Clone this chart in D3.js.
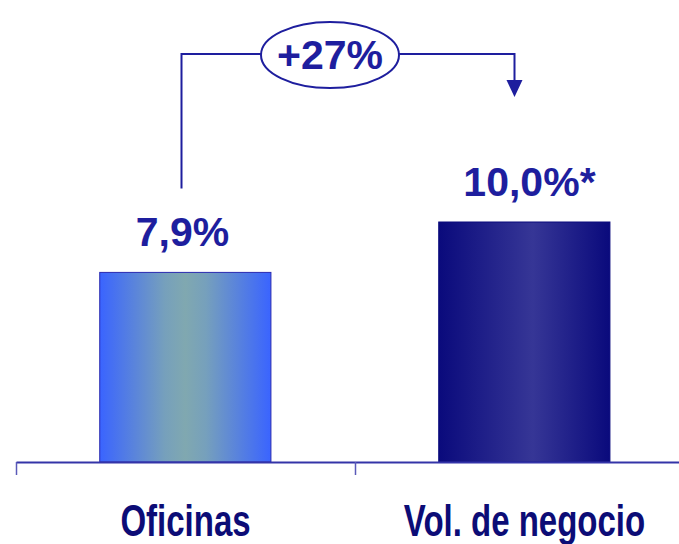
<!DOCTYPE html>
<html>
<head>
<meta charset="utf-8">
<script src="https://cdn.jsdelivr.net/npm/d3@7"></script>
<style>
  html, body { margin: 0; padding: 0; background: #ffffff; }
  svg { display: block; }
</style>
</head>
<body>
<svg id="chart" width="679" height="544"></svg>
<script>
const categories = ["Oficinas", "Vol. de negocio"];
const values = [7.9, 10.0];
const valueLabels = ["7,9%", "10,0%"];
const valueSuffix = ["", "*"];
const growthLabel = "+27%";

const svg = d3.select("#chart");

const x = d3.scaleBand().domain(categories).range([16, 694]).paddingInner(0).paddingOuter(0);
const y = d3.scaleLinear().domain([0, 18]).range([462, 30]);

const defs = svg.append("defs");
const g1 = defs.append("linearGradient").attr("id", "grad0").attr("x1", "0%").attr("x2", "100%").attr("y1", "0%").attr("y2", "0%");
g1.append("stop").attr("offset", "0%").attr("stop-color", "#3a64ff");
g1.append("stop").attr("offset", "38%").attr("stop-color", "#76a0bc");
g1.append("stop").attr("offset", "50%").attr("stop-color", "#80a8b0");
g1.append("stop").attr("offset", "62%").attr("stop-color", "#76a0bc");
g1.append("stop").attr("offset", "100%").attr("stop-color", "#3a64ff");
const g2 = defs.append("linearGradient").attr("id", "grad1").attr("x1", "0%").attr("x2", "100%").attr("y1", "0%").attr("y2", "0%");
g2.append("stop").attr("offset", "0%").attr("stop-color", "#0a0a7c");
g2.append("stop").attr("offset", "55%").attr("stop-color", "#363696");
g2.append("stop").attr("offset", "100%").attr("stop-color", "#0a0a7c");

const barW = x.bandwidth() * 0.505;
const barOff = x.bandwidth() * 0.247;
const data = categories.map((c, i) => ({ c, v: values[i], label: valueLabels[i], suf: valueSuffix[i], i }));

svg.selectAll("rect.bar").data(data).enter().append("rect")
  .attr("class", "bar")
  .attr("x", d => x(d.c) + barOff)
  .attr("y", d => y(d.v))
  .attr("width", barW)
  .attr("height", d => y(0) - y(d.v))
  .attr("fill", d => `url(#grad${d.i})`)
  .attr("stroke", d => d.i === 0 ? "#2a2ab0" : "#0a0a7c")
  .attr("stroke-width", 1);

// axis
const axisScale = d3.scaleLinear().domain([0, categories.length]).range([16, 694]);
const axis = d3.axisBottom(axisScale).tickValues(d3.range(categories.length + 1)).tickFormat("").tickSize(13).tickSizeOuter(0);
const ax = svg.append("g").attr("transform", `translate(0,${y(0)})`).call(axis);
ax.select(".domain").attr("stroke", "#3434a8").attr("stroke-width", 2);
ax.selectAll(".tick line").attr("stroke", "#5a5ab8").attr("stroke-width", 1.5);

// category labels (condensed bold)
svg.selectAll("text.cat").data(data).enter().append("text")
  .attr("class", "cat")
  .attr("transform", d => `translate(${x(d.c) + x.bandwidth() / 2},536) scale(0.75,1)`)
  .attr("text-anchor", "middle")
  .attr("font-family", "'Liberation Sans Narrow', 'Arial Narrow', 'Liberation Sans', Arial, sans-serif")
  .attr("font-weight", "bold")
  .attr("font-size", 44)
  .attr("fill", "#0c0c76")
  .text(d => d.c);

// value labels
const vl = svg.selectAll("g.vl").data(data).enter().append("g").attr("class", "vl");
vl.each(function(d) {
  const gg = d3.select(this);
  const cx = x(d.c) + x.bandwidth() / 2;
  const t = gg.append("text")
    .attr("y", y(d.v) - 26)
    .attr("font-family", "'Liberation Sans', Arial, sans-serif")
    .attr("font-weight", "bold")
    .attr("font-size", 41)
    .attr("fill", "#1e1e9e");
  t.append("tspan").text(d.label);
  const mainW = t.node().getComputedTextLength();
  if (d.suf) t.append("tspan").text(d.suf);
  t.attr("x", cx - mainW / 2 - 3);
});

// growth connector
const c1 = x(categories[0]) + x.bandwidth() / 2 - 4;
const c2 = x(categories[1]) + x.bandwidth() / 2 - 10;
const lineY = 54;
const ex = 330, ey = 55, rx = 69, ry = 33;
const stroke = "#1e1e9e";
svg.append("path")
  .attr("d", `M${c1},${y(values[0]) - 84} V${lineY} H${ex - rx}`)
  .attr("fill", "none").attr("stroke", stroke).attr("stroke-width", 2);
svg.append("path")
  .attr("d", `M${ex + rx},${lineY} H${c2} V${y(values[1]) - 142}`)
  .attr("fill", "none").attr("stroke", stroke).attr("stroke-width", 2);
const tipY = y(values[1]) - 125;
svg.append("path")
  .attr("d", `M${c2 - 8},${tipY - 17} L${c2 + 8},${tipY - 17} L${c2},${tipY} Z`)
  .attr("fill", stroke);
svg.append("ellipse")
  .attr("cx", ex).attr("cy", ey).attr("rx", rx).attr("ry", ry)
  .attr("fill", "#ffffff").attr("stroke", stroke).attr("stroke-width", 2);
svg.append("text")
  .attr("x", ex).attr("y", ey + 14)
  .attr("text-anchor", "middle")
  .attr("font-family", "'Liberation Sans', Arial, sans-serif")
  .attr("font-weight", "bold")
  .attr("font-size", 41)
  .attr("fill", "#1e1e9e")
  .text(growthLabel);
</script>
</body>
</html>
